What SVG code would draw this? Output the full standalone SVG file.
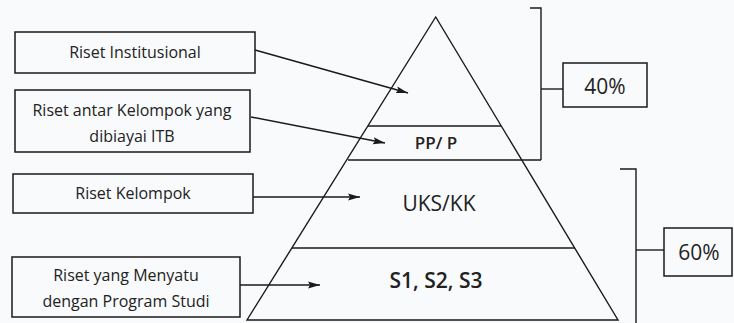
<svg xmlns="http://www.w3.org/2000/svg" width="734" height="323" viewBox="0 0 734 323">
<defs>
<marker id="ah" viewBox="0 0 12 8" refX="12" refY="4" markerWidth="12" markerHeight="8" markerUnits="userSpaceOnUse" orient="auto">
<path d="M0,0.5 L12,4 L0,7.5 L2,4 z" fill="#1a1a1a"/>
</marker>
</defs>
<style>
.box{fill:none;stroke:#1a1a1a;stroke-width:1.5}
.ln{fill:none;stroke:#1a1a1a;stroke-width:1.4}
.t{font-family:"Open Sans",Lato,sans-serif;font-size:16px;fill:#222;text-anchor:middle;dominant-baseline:central}
.lvl{font-family:"Open Sans",Lato,sans-serif;font-size:21px;fill:#222;text-anchor:middle;dominant-baseline:central}
.arr{fill:none;stroke:#1a1a1a;stroke-width:1.5;marker-end:url(#ah)}
</style>
<rect width="734" height="323" fill="#f9fafc"/>
<g id="pyramid">
<path class="ln" d="M435.7,17 L247,320 L618,320 Z"/>
<line class="ln" x1="368" y1="126" x2="501" y2="126"/>
<line class="ln" x1="348" y1="160" x2="541" y2="160"/>
<line class="ln" x1="292" y1="248" x2="575" y2="248"/>
<text class="lvl" x="436" y="142" style="font-size:17px;font-weight:600">PP/ P</text>
<text class="lvl" x="439" y="203">UKS/KK</text>
<text class="lvl" x="436" y="280" style="font-weight:600">S1, S2, S3</text>
</g>
<g id="n1">
<rect class="box" x="15" y="32" width="240" height="41"/>
<text class="t" x="135" y="52">Riset Institusional</text>
</g>
<g id="n2">
<rect class="box" x="15" y="90" width="235" height="62"/>
<text class="t" x="132" y="110">Riset antar Kelompok yang</text>
<text class="t" x="132" y="136">dibiayai ITB</text>
</g>
<g id="n3">
<rect class="box" x="13" y="174" width="240" height="39"/>
<text class="t" x="133" y="193">Riset Kelompok</text>
</g>
<g id="n4">
<rect class="box" x="12" y="257" width="228" height="60"/>
<text class="t" x="126" y="275">Riset yang Menyatu</text>
<text class="t" x="126" y="301">dengan Program Studi</text>
</g>
<g id="n40">
<rect class="box" x="563" y="63" width="84" height="44"/>
<text class="lvl" x="605" y="86">40%</text>
</g>
<g id="n60">
<rect class="box" x="664" y="228" width="68" height="48"/>
<text class="lvl" x="699" y="252">60%</text>
</g>
<g id="connectors">
<path class="arr" d="M255,50 L408,93"/>
<path class="arr" d="M251,117 L385,143"/>
<path class="arr" d="M253,197 L360,197"/>
<path class="arr" d="M240,285 L320,285"/>
<path class="ln" d="M530,8 L541,8 L541,160"/>
<path class="ln" d="M541,89 L563,89"/>
<path class="ln" d="M620,169 L636,169 L636,323"/>
<path class="ln" d="M636,250 L664,250"/>
</g>
</svg>
